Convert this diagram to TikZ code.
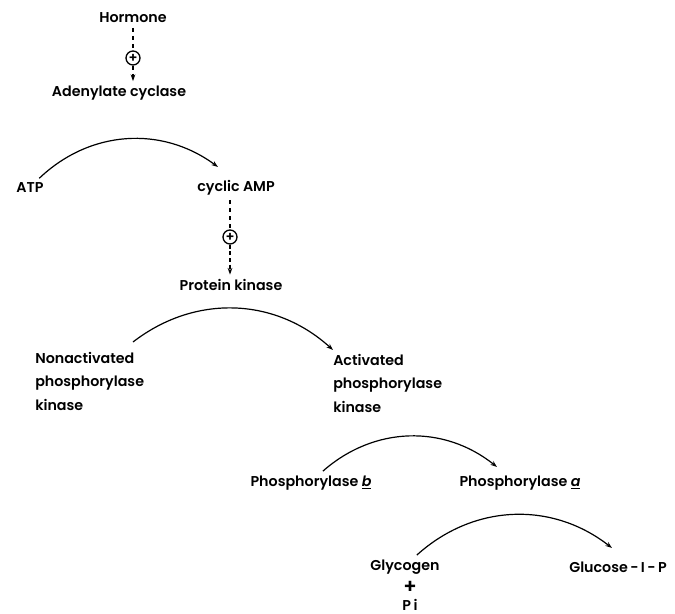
\documentclass[tikz,border=0pt]{standalone}
\usepackage{fontspec}
\setmainfont{Poppins SemiBold}
\usetikzlibrary{arrows.meta}
\tikzset{
  oplus/.style={draw,circle,line width=1pt,inner sep=0pt,minimum size=10.5pt,font=\fontsize{10}{10}\selectfont},
  react/.style={->,line width=0.9pt,bend left=40},
  signal/.style={dashed,line width=0.9pt}
}
\newcommand{\enz}[1]{\underline{\itshape #1}}

\begin{document}
\begin{tikzpicture}[x=0.75pt,y=-0.75pt,
    font=\fontsize{10.7}{17.5}\selectfont,
    >={Stealth[length=5pt,width=3.5pt]}]
      \useasboundingbox (0,0) rectangle (675,614);
      \node (hormone) at (133,18) {Hormone};
      \node [oplus] (plus1) at (133,58) {+};
      \node (cyclase) at (119,93) {Adenylate cyclase};
      \node (atp) at (30,188) {ATP};
      \node (camp) at (236,188) {cyclic AMP};
      \node [oplus] (plus2) at (230,237) {+};
      \node (pkinase) at (231,285) {Protein kinase};
      \node [align=left,anchor=north west,inner sep=0pt] (nonact) at (35,352) {Nonactivated\\phosphorylase\\kinase};
      \node [align=left,anchor=north west,inner sep=0pt] (act) at (333,354) {Activated\\phosphorylase\\kinase};
      \node (phb) at (311,483) {Phosphorylase \enz{b}};
      \node (pha) at (520,483) {Phosphorylase \enz{a}};
      \node (glycogen) at (405,567) {Glycogen};
      \node [font=\fontsize{15}{15}\selectfont] (gplus) at (410,587) {+};
      \node (pi) at (410,605) {P\,i};
      \node (g1p) at (618,567) {Glucose\,-\,I\,-\,P};

      \draw[signal] (plus1 |- hormone.south) -- (plus1);
      \draw[signal,->] (plus1) -- (plus1 |- cyclase.north);
      \draw[signal] (plus2 |- camp.south) -- (plus2);
      \draw[signal,densely dashed,->] (plus2) -- (plus2 |- pkinase.north);

      \draw[react] ([shift={(-2,-20)}]atp) to ([shift={(-18,-21)}]camp);
      \draw[react] ([shift={(98,-10)}]nonact.north west) to ([shift={(0,-4)}]act.north west);
      \draw[react] ([shift={(-11,-18)}]phb) to ([shift={(-23,-16)}]pha);
      \draw[react] ([shift={(10,-19)}]glycogen) to ([shift={(-6,-19)}]g1p);
    \end{tikzpicture}
\end{document}
